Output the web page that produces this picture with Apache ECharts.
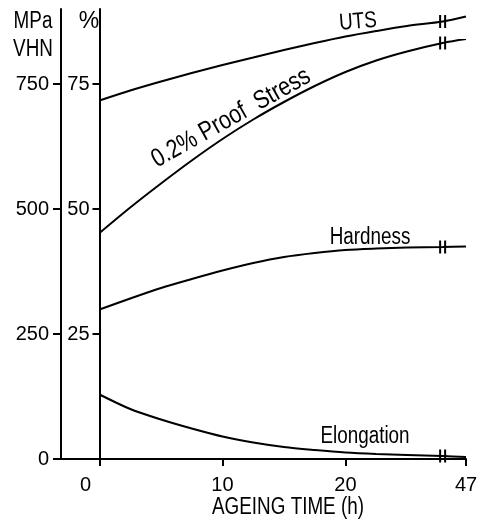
<!DOCTYPE html>
<html><head><meta charset="utf-8">
<script src="https://cdn.jsdelivr.net/npm/echarts@6/dist/echarts.min.js"></script>
<style>html,body{margin:0;padding:0;background:#fff}#c{width:477px;height:525px}</style>
</head><body><div id="c"></div>
<script>
// ---- data ----
const ageingTime  = [0, 2.5, 5, 7.5, 10, 12.5, 15, 17.5, 20, 22.5, 25, 27.9, 47];
const uts         = [717, 737, 755, 772, 788, 803, 818, 832, 845, 856, 866, 875, 885];
const proofStress = [452, 503, 551, 597, 640, 679, 714, 746, 774, 797, 815, 832, 840];
const hardness    = [299, 321, 342, 360, 377, 392, 404, 412, 418, 421, 423, 424, 425];
const elongation  = [12.9, 10.0, 7.9, 6.1, 4.5, 3.3, 2.4, 1.8, 1.3, 1.0, 0.8, 0.6, 0.4];
const xTickValues   = [0, 10, 20, 47];
const mpaTickValues = [0, 250, 500, 750];
const pctTickValues = [0, 25, 50, 75];
const pctTickLabels = [25, 50, 75];

// broken time axis: linear up to BREAK_T, then 47 h drawn at SHOWN_END
const BREAK_T = 27.9;
const SHOWN_END = 29.8;
const X_MIN = -3.13;
function axisPos(t) { return t <= BREAK_T ? t : SHOWN_END - (47 - t); }
function labelFor(p) {
  for (const t of xTickValues) if (Math.abs(axisPos(t) - p) < 1e-6) return String(t);
  return '';
}

const FONT = "'Liberation Sans', Arial, sans-serif";
const BREAK_SYMBOL = 'path://M0,0h2v12h-2z M5,0h2v12h-2z';

function makeSeries(name, values, yIdx) {
  return {
    name, type: 'line', yAxisIndex: yIdx,
    smooth: 0.3,
    symbol: 'none', showSymbol: true, showAllSymbol: true,
    lineStyle: { color: '#000', width: 2 },
    itemStyle: { color: '#000' },
    silent: true,
    data: ageingTime.map((t, i) => t === BREAK_T
      ? { value: [axisPos(t), values[i]], symbol: BREAK_SYMBOL, symbolSize: [7, 13] }
      : [axisPos(t), values[i]])
  };
}

function txt(text, x, y, size, opts) {
  return Object.assign({
    type: 'text', x, y, scaleX: 0.82,
    style: { text, fontSize: size, fontFamily: FONT, fill: '#000', align: 'center', verticalAlign: 'middle' }
  }, opts || {});
}

const chart = echarts.init(document.getElementById('c'));
const labelStyle = { color: '#000', fontSize: 20, fontFamily: FONT };
chart.setOption({
  animation: false,
  backgroundColor: '#fff',
  grid: { left: 61, right: 11, top: 9, bottom: 66, outerBoundsMode: 'none', containLabel: false },
  xAxis: {
    type: 'value', min: X_MIN, max: SHOWN_END,
    splitLine: { show: false },
    axisLine: { onZero: false, lineStyle: { color: '#000', width: 2 } },
    axisTick: { customValues: xTickValues.map(axisPos), length: 7, lineStyle: { color: '#000', width: 2 } },
    axisLabel: Object.assign({
      customValues: xTickValues.map(axisPos), margin: 16,
      formatter: v => { const s = labelFor(v); return s === '0' ? '{z|0}' : s; },
      rich: { z: { padding: [0, 28, 0, 0], fontSize: 20, fontFamily: FONT, color: '#000' } }
    }, labelStyle)
  },
  yAxis: [
    {
      type: 'value', position: 'left', min: 0, max: 900,
      splitLine: { show: false },
      axisLine: { show: true, onZero: false, lineStyle: { color: '#000', width: 2 } },
      axisTick: { show: true, customValues: mpaTickValues, length: 8, lineStyle: { color: '#000', width: 2 } },
      axisLabel: Object.assign({ customValues: mpaTickValues, margin: 12 }, labelStyle)
    },
    {
      type: 'value', position: 'left', offset: -38.5, min: 0, max: 90,
      splitLine: { show: false },
      axisLine: { show: true, onZero: false, lineStyle: { color: '#000', width: 2 } },
      axisTick: { show: true, customValues: pctTickValues, length: 7, lineStyle: { color: '#000', width: 2 } },
      axisLabel: Object.assign({ customValues: pctTickLabels, margin: 10 }, labelStyle)
    }
  ],
  series: [
    makeSeries('UTS', uts, 0),
    makeSeries('0.2% Proof Stress', proofStress, 0),
    makeSeries('Hardness', hardness, 0),
    makeSeries('Elongation', elongation, 1)
  ],
  graphic: [
    txt('MPa', 33, 22, 23),
    txt('VHN', 33, 50, 23),
    txt('%', 89, 22, 23, { scaleX: 1 }),
    txt('UTS', 358, 22, 23, { rotation: 0.08 }),
    txt('0.2% Proof  Stress', 231, 118, 26, { rotation: 0.51 }),
    txt('Hardness', 370, 238, 23),
    txt('Elongation', 365, 437, 23),
    txt('AGEING TIME (h)', 288, 508, 23)
  ]
});
</script>
</body></html>
